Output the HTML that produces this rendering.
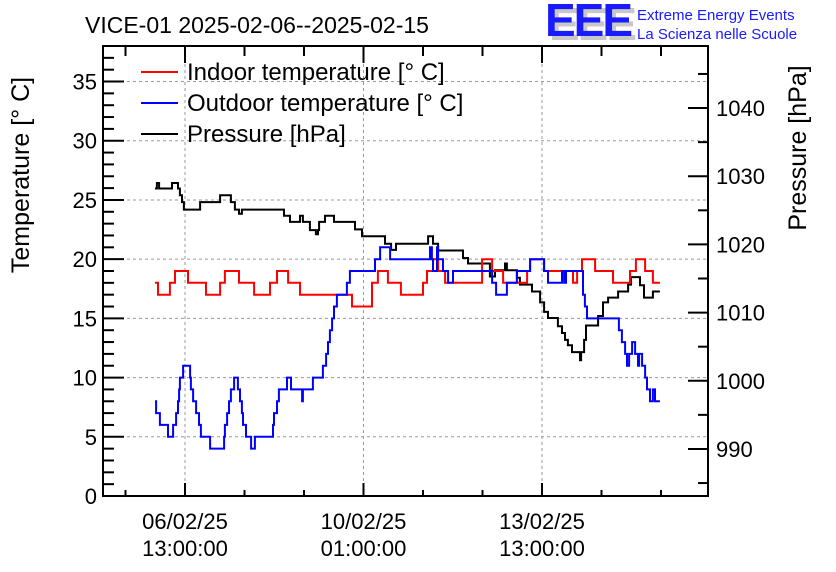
<!DOCTYPE html>
<html><head><meta charset="utf-8"><style>
body{margin:0;background:#fff;}
svg{display:block;font-family:"Liberation Sans",Arial,sans-serif;}
</style></head><body>
<svg id="chart" width="836" height="572" viewBox="0 0 836 572" xmlns="http://www.w3.org/2000/svg">
<rect width="836" height="572" fill="#fff"/>
<text x="85" y="33" font-size="23">VICE-01 2025-02-06--2025-02-15</text>
<g>
<text x="549" y="40" font-size="46" font-weight="bold" fill="#c8c8c8" letter-spacing="-2">EEE</text>
<text x="545" y="36" font-size="46" font-weight="bold" fill="#1a1aff" letter-spacing="-2">EEE</text>
<text x="637" y="20" font-size="15" fill="#1a1aff">Extreme Energy Events</text>
<text x="637" y="39" font-size="15" fill="#1a1aff">La Scienza nelle Scuole</text>
</g>
<g id="grid"></g>
<g id="series"></g>
<g id="axes"></g>
<text transform="translate(29,175) rotate(-90)" text-anchor="middle" font-size="25">Temperature [° C]</text>
<text transform="translate(806,148) rotate(-90)" text-anchor="middle" font-size="25">Pressure [hPa]</text>
<g>
<g><line x1="141" y1="72" x2="178" y2="72" stroke="#f00" stroke-width="2"/><text x="187" y="80" font-size="24">Indoor temperature [° C]</text></g>
<g><line x1="141" y1="103" x2="178" y2="103" stroke="#00f" stroke-width="2"/><text x="187" y="111" font-size="24">Outdoor temperature [° C]</text></g>
<g><line x1="141" y1="134" x2="178" y2="134" stroke="#000" stroke-width="2"/><text x="187" y="142" font-size="24">Pressure [hPa]</text></g>
</g>
</svg>
<script>
// time in hours since 2025-02-06 00:00
const indoorTimes=[-1.1,0.3,5.9,8.3,14.4,22.9,29.5,31.8,38.4,45.5,53,56.3,61.5,67.1,91.6,101,103.8,108.5,114.6,125,126.9,129.7,132.1,135.4,152.8,157.5,162.7,174,175.4,182,195.6,197.5,199.8,206,214.4,222.4,225.2,229.5,233.2];
const indoorValues=[18,17,18,19,18,17,18,19,18,17,18,19,18,17,16,18,19,18,17,18,19,20,19,18,20,19,18,19,20,19,18,19,20,19,18,19,20,19,18];
const outdoorTimes=[-1.1,-0.6,1.2,5,7.4,8.8,9.7,10.2,10.6,12.1,15.4,15.8,16.8,18.2,19.6,20.5,24.8,31.4,31.8,32.8,33.7,34.6,36.1,37.9,38.9,39.8,40.3,41.7,44.1,45.9,54.4,54.9,56.3,57.2,61,62.9,68.1,68.5,73.2,77.9,79.4,80.3,81.2,82.2,83.1,84.5,89.2,90.6,102.4,104.8,109.5,128.3,129.2,129.7,131.6,132.1,134.4,136.8,139.1,157.5,159.4,164.5,169.2,175.4,182,183.8,190.4,191.4,192.3,200.3,201.2,202.2,217.2,218.6,220.1,221,222,223.4,224.8,226.2,226.7,228.1,229.5,230.4,231.8,233.2,234.2];
const outdoorValues=[8,7,6,5,6,7,8,9,10,11,10,9,8,7,6,5,4,5,6,7,8,9,10,9,8,7,6,5,4,5,6,7,8,9,10,9,8,9,10,11,12,13,14,15,16,17,18,19,20,21,20,21,20,19,21,20,19,18,19,18,17,18,19,20,19,18,19,18,19,17,16,15,14,13,12,11,12,13,12,11,12,11,10,9,8,9,8];
const pressureTimes=[-1.1,-0.2,0.8,6.9,9.7,10.6,11.6,12.5,20.1,29.5,34.6,36.5,38.4,39.8,59.6,62.4,67.1,68.5,71.8,74.6,75.6,76.1,78.9,83.1,93,96.3,107.1,110,112.3,127.4,129.7,132.1,143.8,146.2,156.5,158.9,163.6,164.5,169.2,170.6,176.3,180.1,182,183.8,188.5,190.4,191.8,193.2,195.1,198.9,199.4,200.8,201.7,207.4,209.7,212.1,216.8,221.5,222.9,227.1,229,233.2];
const pressureValues=[1028.2,1029,1028.2,1029,1028.2,1027.2,1026.2,1025.1,1026.2,1027.2,1026.2,1025.1,1024.5,1025.1,1024.2,1023.3,1024.2,1023.3,1022.1,1021.5,1022.1,1023.3,1024.2,1023.3,1022.2,1021.2,1020.1,1019.2,1020.1,1021.2,1020.1,1019.1,1018,1017.2,1015.3,1016.2,1017.2,1016.2,1015.1,1014.1,1013.1,1011.5,1010.1,1009.2,1008,1007,1006,1005.2,1004.2,1003,1004.2,1006,1008.1,1009.5,1011.5,1012.2,1013.1,1014.1,1015.2,1014,1012.2,1013.1];
const endTime=236.5;
const tempTicks=[0,5,10,15,20,25,30,35];
const pressTicks=[990,1000,1010,1020,1030,1040];
const timeTicks=[13,97,181];
const timeLabels1=["06/02/25","10/02/25","13/02/25"];
const timeLabels2=["13:00:00","01:00:00","13:00:00"];

const L=103,R=708,T=46,B=496;
const NS="http://www.w3.org/2000/svg";
const xS=h=>185+(h-13)*2.125;
const yT=v=>B-(v-0)*(B-T)/38;
const yP=p=>B-(p-983.1)*(B-T)/66;
function mk(tag,attrs,parent){const e=document.createElementNS(NS,tag);for(const k in attrs)e.setAttribute(k,attrs[k]);parent.appendChild(e);return e;}
const grid=document.getElementById('grid'),axes=document.getElementById('axes'),series=document.getElementById('series');
tempTicks.forEach(v=>{const y=yT(v);
 if(v>0){const g=mk('line',{x1:L,x2:R,y1:y,y2:y,stroke:'#999','stroke-dasharray':'3,3','stroke-width':1},grid);
 
 }
 const t=mk('text',{x:97,y:y+8,'text-anchor':'end','font-size':22},axes);t.textContent=v;
 
 });
for(let v=0;v<=38;v++){const y=yT(v);mk('line',{x1:L,x2:L+(v%5?11:21),y1:y,y2:y,stroke:'#000','stroke-width':2},axes);}
timeTicks.forEach((h,i)=>{const x=xS(h);
 const g=mk('line',{x1:x,x2:x,y1:T,y2:B,stroke:'#999','stroke-dasharray':'3,3','stroke-width':1},grid);
 
 
 const t1=mk('text',{x:x,y:529,'text-anchor':'middle','font-size':22},axes);t1.textContent=timeLabels1[i];
 
 
 const t2=mk('text',{x:x,y:556,'text-anchor':'middle','font-size':22},axes);t2.textContent=timeLabels2[i];
 
 });
for(let k=-4;k<=12;k++){const h=13+k*28;const x=xS(h);if(x<L+1||x>R-1)continue;const len=(k%3===0)?13:6;
 mk('line',{x1:x,x2:x,y1:B,y2:B-len,stroke:'#000','stroke-width':2},axes);
 mk('line',{x1:x,x2:x,y1:T,y2:T+len+4,stroke:'#000','stroke-width':2},axes);}
for(let p=985;p<=1045;p+=5){const y=yP(p);const maj=(p%10===0);
 mk('line',{x1:R,x2:R-(maj?20:10),y1:y,y2:y,stroke:'#000','stroke-width':2},axes);}
pressTicks.forEach(p=>{const t=mk('text',{x:716,y:yP(p)+8,'font-size':22},axes);t.textContent=p;
 
 });
const fr=mk('rect',{x:L,y:T,width:R-L,height:B-T,fill:'none',stroke:'#000','stroke-width':2},axes);


function step(times,vals,yf){let d='';for(let i=0;i<times.length;i++){const x=xS(times[i]),y=yf(vals[i]);const xn=xS(i+1<times.length?times[i+1]:endTime);
 d+=(i===0?'M':'L')+x.toFixed(1)+','+y.toFixed(1)+'L'+xn.toFixed(1)+','+y.toFixed(1);}return d;}
const p1=mk('path',{d:step(pressureTimes,pressureValues,yP),fill:'none',stroke:'#000','stroke-width':2},series);


const p2=mk('path',{d:step(indoorTimes,indoorValues,yT),fill:'none',stroke:'#f00','stroke-width':2},series);


const p3=mk('path',{d:step(outdoorTimes,outdoorValues,yT),fill:'none',stroke:'#00f','stroke-width':2},series);


</script>
</body></html>
